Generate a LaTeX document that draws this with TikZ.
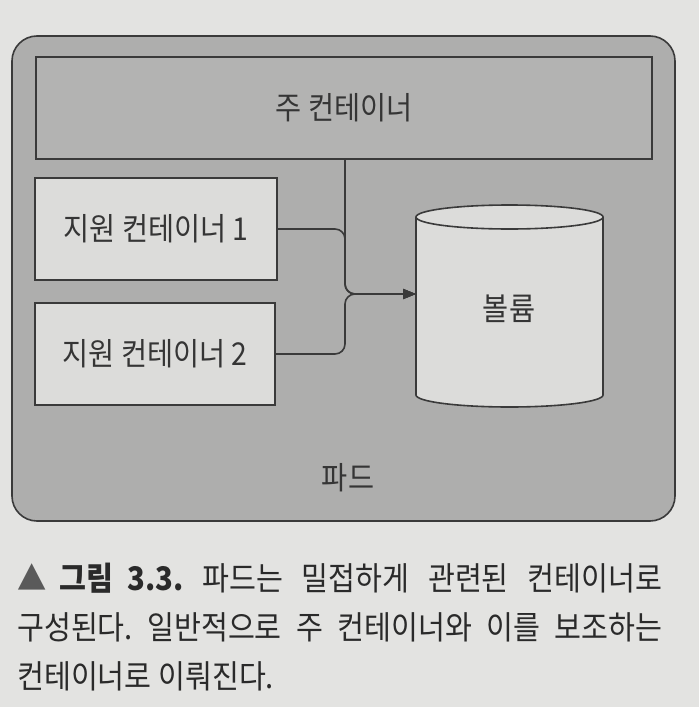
\documentclass[tikz,border=0pt]{standalone}
\usepackage{fontspec}
\setmainfont[FakeStretch=0.9]{Noto Sans CJK KR}
\usetikzlibrary{arrows.meta}
\definecolor{page}{HTML}{E3E3E1}
\definecolor{podfill}{HTML}{AEAEAD}
\definecolor{mainfill}{HTML}{B3B3B2}
\definecolor{boxfill}{HTML}{DCDCDA}
\definecolor{line}{HTML}{3A3A3A}
\definecolor{ink}{HTML}{353535}
\definecolor{capink}{HTML}{2A2A2A}
\definecolor{tri}{HTML}{5A5A5A}

\begin{document}
\begin{tikzpicture}[x=1pt,y=-1pt,text=ink,
    lbl/.style={font=\fontsize{31.5}{34}\selectfont},
    box/.style={draw=line,line width=1.6pt,fill=boxfill,lbl},
    wire/.style={draw=line,line width=1.6pt,rounded corners=10pt,
      -{Triangle[length=13pt,width=10pt]}},
    captext/.style={font=\fontsize{32.5}{36}\selectfont\frenchspacing,text=capink,
      inner sep=0pt,anchor=base west}]
  \fill[page] (0,0) rectangle (699,707);
  \useasboundingbox (0,0) rectangle (699,707);
  % pod
  \draw[line,line width=1.6pt,fill=podfill,rounded corners=25pt]
    (12,36) rectangle (675,521);
  \node[lbl] (pod) at (348,478) {파드};
  % containers
  \node[box,fill=mainfill,minimum width=616pt,minimum height=102pt]
    (main) at (344,108) {주 컨테이너};
  \node[box,minimum width=242pt,minimum height=102pt]
    (sup1) at (156,229) {지원 컨테이너 1};
  \node[box,minimum width=240pt,minimum height=102pt]
    (sup2) at (155,354) {지원 컨테이너 2};
  % volume
  \filldraw[draw=line,line width=1.6pt,fill=boxfill]
    (416,395) arc[start angle=180,end angle=360,x radius=93.5pt,y radius=12pt]
    -- (603,217) arc[start angle=0,end angle=180,x radius=93.5pt,y radius=12pt]
    -- cycle;
  \draw[line,line width=1.6pt]
    (416,217) arc[start angle=180,end angle=360,x radius=93.5pt,y radius=12pt];
  \node[lbl] (vol) at (509,309) {볼륨};
  \coordinate (join) at (345,294);
  \coordinate (volin) at (416,294);
  \draw[wire] (main.south -| join) -- (join) -- (volin);
  \draw[wire] (sup1.east) -| (join) -- (volin);
  \draw[wire] (sup2.east) -| (join) -- (volin);
  % caption
  \node[captext] (cap1) at (17,590)
    {\makebox[645pt][s]{\textbf{\textcolor{tri}{▲}\hspace{13pt}그림\hspace{14pt}3.3.} 파드는 밀접하게 관련된 컨테이너로}};
  \node[captext] (cap2) at (17,639)
    {\makebox[645pt][s]{구성된다. 일반적으로 주 컨테이너와 이를 보조하는}};
  \node[captext] (cap3) at (17,688) {컨테이너로 이뤄진다.};
\end{tikzpicture}
\end{document}
